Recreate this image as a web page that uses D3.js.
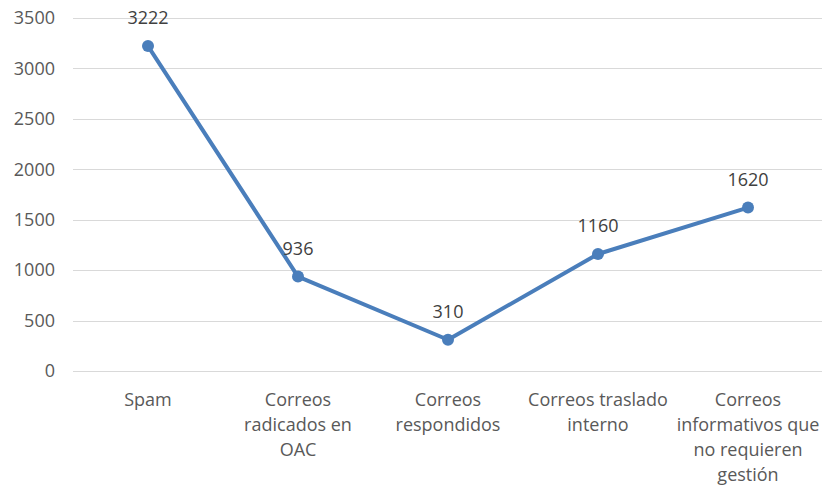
<!DOCTYPE html>
<html>
<head>
<meta charset="utf-8">
<script src="https://cdn.jsdelivr.net/npm/d3@7"></script>
<style>
body{margin:0;background:#fff;}
text{font-family:"Open Sans",sans-serif;fill:#595959;}
</style>
</head>
<body>
<div class="chart"></div>
<script>
var categories = ["Spam", "Correos radicados en OAC", "Correos respondidos", "Correos traslado interno", "Correos informativos que no requieren gestión"];
var labelLines = [["Spam"], ["Correos", "radicados en", "OAC"], ["Correos", "respondidos"], ["Correos traslado", "interno"], ["Correos", "informativos que", "no requieren", "gestión"]];
var values = [3222, 936, 310, 1160, 1620];
var yTicks = [0, 500, 1000, 1500, 2000, 2500, 3000, 3500];

var width = 822,
    height = 486;

var svg = d3.select(".chart").append("svg")
    .attr("width", width)
    .attr("height", height);

var x = d3.scalePoint()
    .domain(categories)
    .range([148, 748]);

var y = d3.scaleLinear()
    .domain([0, 3500])
    .range([371, 18]);

// gridlines
svg.append("g")
    .selectAll("line")
    .data(yTicks)
    .enter().append("line")
    .attr("x1", 73)
    .attr("x2", 822)
    .attr("y1", function(d){ return Math.round(y(d)) + 0.5; })
    .attr("y2", function(d){ return Math.round(y(d)) + 0.5; })
    .attr("stroke", "#d9d9d9")
    .attr("stroke-width", 1);

// y axis labels
svg.append("g")
    .selectAll("text")
    .data(yTicks)
    .enter().append("text")
    .attr("x", 55)
    .attr("y", function(d){ return y(d); })
    .attr("dy", "0.35em")
    .attr("text-anchor", "end")
    .style("font-size", "18px")
    .text(function(d){ return d; });

// category labels
var cat = svg.append("g")
    .selectAll("text")
    .data(categories)
    .enter().append("text")
    .attr("text-anchor", "middle")
    .style("font-size", "18px")
    .attr("transform", function(d){ return "translate(" + x(d) + ",406)"; });

cat.selectAll("tspan")
    .data(function(d, i){ return labelLines[i]; })
    .enter().append("tspan")
    .attr("x", 0)
    .attr("y", function(d, i){ return i * 25; })
    .text(function(d){ return d; });

// line
var line = d3.line()
    .x(function(d, i){ return x(categories[i]); })
    .y(function(d){ return y(d); });

svg.append("path")
    .datum(values)
    .attr("d", line)
    .attr("fill", "none")
    .attr("stroke", "#4a7ebb")
    .attr("stroke-width", 4)
    .attr("stroke-linejoin", "round");

svg.selectAll(".mark")
    .data(values)
    .enter().append("circle")
    .attr("class", "mark")
    .attr("cx", function(d, i){ return x(categories[i]); })
    .attr("cy", function(d){ return y(d); })
    .attr("r", 6)
    .attr("fill", "#4a7ebb");

// data labels
svg.selectAll(".dlabel")
    .data(values)
    .enter().append("text")
    .attr("class", "dlabel")
    .attr("x", function(d, i){ return x(categories[i]); })
    .attr("y", function(d){ return y(d) - 28; })
    .attr("dy", "0.35em")
    .attr("text-anchor", "middle")
    .style("font-size", "18px")
    .style("fill", "#404040")
    .text(function(d){ return d; });
</script>
</body>
</html>
